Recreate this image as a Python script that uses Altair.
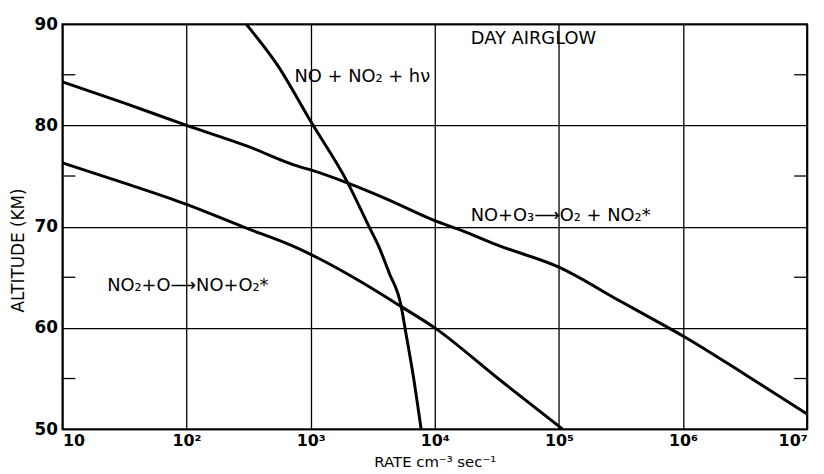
import altair as alt
import pandas as pd

# Curve readings: log10(rate) exponents and altitude (km)
a_exp = [1.0, 1.5, 2.0, 2.5, 2.89, 3.0, 3.30, 3.6, 4.0, 4.2, 4.5, 5.0, 5.5, 5.87, 6.0, 6.5, 7.0]
a_alt = [84.3, 82.2, 80.0, 77.9, 76.0, 75.6, 74.3, 72.8, 70.6, 69.7, 68.2, 66.0, 62.6, 60.1, 59.2, 55.4, 51.5]

b_exp = [1.0, 1.5, 2.0, 2.45, 2.89, 3.09, 3.37, 3.73, 4.0, 4.5, 5.03]
b_alt = [76.3, 74.3, 72.2, 70.0, 67.9, 66.7, 64.8, 62.1, 60.0, 55.1, 50.0]

c_exp = [2.48, 2.73, 3.0, 3.30, 3.47, 3.55, 3.63, 3.73, 3.76, 3.83, 3.89]
c_alt = [90.0, 86.0, 80.4, 74.3, 70.0, 68.0, 65.5, 62.1, 60.0, 55.0, 50.0]

tick_values = [10, 100, 1000, 10000, 100000, 1000000, 10000000]
tick_labels = ["10", "10²", "10³", "10⁴", "10⁵", "10⁶", "10⁷"]
alt_ticks = [50, 60, 70, 80, 90]
minor_alt = [55, 65, 75, 85]

label_text = ["NO + NO₂ + hν", "DAY  AIRGLOW", "NO+O₃⟶O₂ + NO₂*", "NO₂+O⟶NO+O₂*"]
label_exp = [2.87, 4.29, 4.29, 1.36]
label_alt = [84.8, 88.5, 71.0, 64.1]

rows = []
for name, ex, al in [("A", a_exp, a_alt), ("B", b_exp, b_alt), ("C", c_exp, c_alt)]:
    for i, (e, h) in enumerate(zip(ex, al)):
        rows.append({"curve": name, "i": i, "rate": 10 ** e, "alt": h})
df = pd.DataFrame(rows)

lab_df = pd.DataFrame({"text": label_text,
                       "rate": [10 ** e for e in label_exp],
                       "alt": label_alt})
minor_df = pd.DataFrame({"alt": minor_alt})

FONT = "DejaVu Sans"
label_expr = "[" + ",".join(f"'{t}'" for t in tick_labels) + "][round(log(datum.value)/LN10) - 1]"

xscale = alt.Scale(type="log", domain=[10, 1e7])
yscale = alt.Scale(domain=[50, 90])

x_enc = alt.X("rate:Q", scale=xscale,
              axis=alt.Axis(values=tick_values, labelExpr=label_expr, grid=True,
                            ticks=False, domain=False, labelFlush=True,
                            labelFont=FONT, labelFontSize=16, labelFontWeight="bold",
                            labelColor="black", labelPadding=4,
                            title="RATE   cm⁻³ sec⁻¹", titleFont=FONT, titleFontSize=15,
                            titleFontWeight="normal", titleColor="black",
                            titleY=33, titleBaseline="middle"))
y_enc = alt.Y("alt:Q", scale=yscale,
              axis=alt.Axis(values=alt_ticks, grid=True, ticks=False, domain=False,
                            labelFont=FONT, labelFontSize=17, labelFontWeight="bold",
                            labelColor="black", labelPadding=5,
                            title="ALTITUDE (KM)", titleFont=FONT, titleFontSize=17,
                            titleFontWeight="normal", titleColor="black",
                            titleX=-44, titleY=228, titleAngle=270,
                            titleAlign="center", titleBaseline="middle",
                            titleAnchor="start"))

lines = alt.Chart(df).mark_line(color="black", strokeWidth=3, interpolate="monotone").encode(
    x=x_enc, y=y_enc, detail="curve:N", order="i:Q")

texts = alt.Chart(lab_df).mark_text(align="left", baseline="middle", font=FONT,
                                    fontSize=18, color="black").encode(
    x=alt.X("rate:Q", scale=xscale), y=alt.Y("alt:Q", scale=yscale), text="text:N")

minor_left = alt.Chart(minor_df).mark_rule(color="black", strokeWidth=1.3).encode(
    y=alt.Y("alt:Q", scale=yscale), x=alt.value(0), x2=alt.value(13))
minor_right = alt.Chart(minor_df).mark_rule(color="black", strokeWidth=1.3).encode(
    y=alt.Y("alt:Q", scale=yscale), x=alt.value(739), x2=alt.value(752))

chart = alt.layer(lines, texts, minor_left, minor_right).properties(
    width=752, height=409,
    autosize=alt.AutoSizeParams(type="none"),
    padding={"left": 55, "top": 14, "right": 9, "bottom": 43},
).configure_view(stroke="black", strokeWidth=2).configure_axis(
    gridColor="black", gridOpacity=1, gridWidth=1.3)

chart.save("out.html", embed_options={"renderer": "svg", "actions": False})
